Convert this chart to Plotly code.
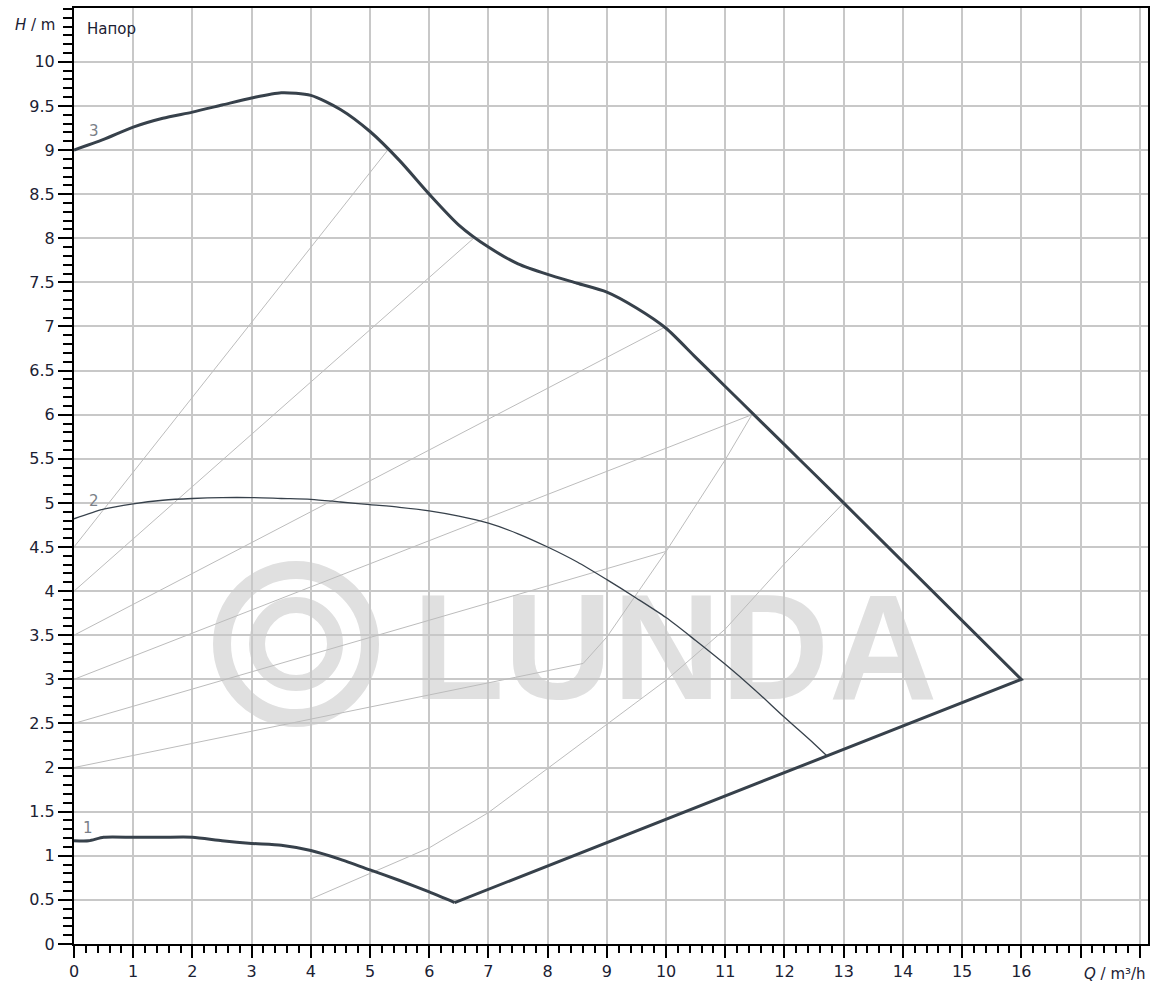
import plotly.graph_objects as go

# ---------------- data ----------------
q_curve3 = [0, 0.5, 1, 1.5, 2, 2.5, 3, 3.5, 4, 4.5, 5, 5.5, 6, 6.5, 7, 7.5, 8, 8.5,
            9, 9.5, 10, 10.5, 11, 11.5, 12, 12.5, 13]
h_curve3 = [9.0, 9.12, 9.26, 9.36, 9.43, 9.51, 9.59, 9.65, 9.62, 9.46, 9.21, 8.88, 8.5,
            8.15, 7.9, 7.71, 7.59, 7.49, 7.39, 7.21, 6.98, 6.65, 6.32, 5.99, 5.66, 5.33, 5.0]

q_curve2 = [0, 0.5, 1, 1.5, 2, 2.5, 3, 3.5, 4, 4.5, 5, 5.5, 6, 6.5, 7, 7.5, 8, 8.5,
            9, 9.5, 10, 10.5, 11, 11.5, 12, 12.5, 12.72]
h_curve2 = [4.82, 4.93, 4.99, 5.03, 5.05, 5.06, 5.06, 5.05, 5.04, 5.01, 4.98, 4.95, 4.91,
            4.85, 4.77, 4.65, 4.5, 4.33, 4.13, 3.92, 3.7, 3.44, 3.17, 2.88, 2.57, 2.27, 2.13]

q_curve1 = [0, 0.25, 0.5, 1, 1.5, 2, 2.5, 3, 3.5, 4, 4.5, 5, 5.5, 6, 6.43]
h_curve1 = [1.17, 1.17, 1.21, 1.21, 1.21, 1.21, 1.17, 1.14, 1.12, 1.06, 0.96, 0.84, 0.72, 0.59, 0.47]

q_limit = [13, 16, 6.43]
h_limit = [5.0, 3.0, 0.47]

# thin grey iso-lines
q_iso = [
    [0, 5.3],
    [0, 6.75],
    [0, 10.0],
    [0, 11.45],
    [0, 10.0],
    [0, 8.6, 9.0, 10.0, 11.0, 11.45],
    [4, 5, 6, 7, 8, 9, 10, 11, 12, 13],
]
h_iso = [
    [4.5, 9.0],
    [4.0, 8.0],
    [3.5, 7.0],
    [3.0, 6.0],
    [2.5, 4.45],
    [2.0, 3.18, 3.48, 4.45, 5.49, 6.0],
    [0.51, 0.8, 1.09, 1.49, 1.99, 2.48, 2.99, 3.57, 4.31, 5.0],
]

curve_labels = ["1", "2", "3"]
label_q = [0.24, 0.34, 0.34]
label_h = [1.32, 5.02, 9.22]

x_ticks = list(range(0, 19))
x_ticktext = [str(v) for v in range(0, 17)] + ["", ""]
y_ticks = [i * 0.5 for i in range(0, 21)]
y_ticktext = [f"{v:g}" for v in y_ticks]

# ---------------- styling ----------------
CURVE = "#37414b"
ISO = "#bcbcbc"
GRID = "#c8c8c8"
TXT = "#1b2133"
FONT = "DejaVu Sans"

fig = go.Figure()

for qs, hs in zip(q_iso, h_iso):
    fig.add_trace(go.Scatter(x=qs, y=hs, mode="lines",
                             line=dict(color=ISO, width=1), hoverinfo="skip"))

fig.add_trace(go.Scatter(x=q_curve2, y=h_curve2, mode="lines",
                         line=dict(color=CURVE, width=1.3, shape="spline", smoothing=0.8)))
fig.add_trace(go.Scatter(x=q_curve1, y=h_curve1, mode="lines",
                         line=dict(color=CURVE, width=3, shape="spline", smoothing=0.6)))
fig.add_trace(go.Scatter(x=q_curve3, y=h_curve3, mode="lines",
                         line=dict(color=CURVE, width=3, shape="spline", smoothing=0.7)))
fig.add_trace(go.Scatter(x=q_limit, y=h_limit, mode="lines",
                         line=dict(color=CURVE, width=3)))

for t, qx, hy in zip(curve_labels, label_q, label_h):
    fig.add_annotation(x=qx, y=hy, text=t, showarrow=False,
                       font=dict(family=FONT, size=15, color="#7a7f88"))

# watermark (below grid)
WM = "#e0e0e0"
fig.add_shape(type="circle", xref="x", yref="y", xsizemode="pixel", ysizemode="pixel",
              xanchor=3.75, yanchor=3.4, x0=-74, x1=74, y0=-74, y1=74,
              line=dict(color=WM, width=18), layer="below")
fig.add_shape(type="circle", xref="x", yref="y", xsizemode="pixel", ysizemode="pixel",
              xanchor=3.75, yanchor=3.4, x0=-39, x1=39, y0=-39, y1=39,
              line=dict(color=WM, width=16), layer="below")
fig.add_shape(type="rect", xref="x", yref="y", x0=5.9, x1=14.4, y0=2.9, y1=4.15,
              line=dict(width=0), fillcolor="rgba(0,0,0,0)", layer="below",
              label=dict(text="<b>LUNDA</b>", textposition="middle center",
                         font=dict(family="Liberation Sans", size=150, color=WM)))

fig.add_annotation(xref="paper", yref="y", x=0, y=10.42, xanchor="right", yanchor="middle",
                   xshift=-17, text="<i>H</i> / m", showarrow=False,
                   font=dict(family=FONT, size=15, color=TXT))
fig.add_annotation(xref="x", yref="y", x=0.18, y=10.37, xanchor="left", yanchor="middle",
                   text="Напор", showarrow=False,
                   font=dict(family=FONT, size=15, color=TXT))
fig.add_annotation(xref="paper", yref="paper", x=1, y=0, xanchor="right", yanchor="middle",
                   yshift=-30, text="<i>Q</i> / m³/h", showarrow=False,
                   font=dict(family=FONT, size=15, color=TXT))

axis_common = dict(showline=True, linewidth=2, linecolor="black", mirror=True,
                   showgrid=True, gridcolor=GRID, gridwidth=1.5, zeroline=False,
                   ticks="outside", tickcolor="black", tickwidth=2,
                   tickfont=dict(family=FONT, size=16, color=TXT))

fig.update_xaxes(range=[0, 18.14], tickmode="array", tickvals=x_ticks, ticktext=x_ticktext,
                 ticklen=12,
                 minor=dict(tick0=0, dtick=0.2, ticklen=7, tickwidth=1.5,
                            tickcolor="black", ticks="outside", showgrid=False),
                 **axis_common)
fig.update_yaxes(range=[0, 10.61], tickmode="array", tickvals=y_ticks, ticktext=y_ticktext,
                 ticklen=14,
                 minor=dict(tick0=0, dtick=0.1, ticklen=9, tickwidth=1.5,
                            tickcolor="black", ticks="outside", showgrid=False),
                 **axis_common)

fig.update_layout(width=1157, height=988, showlegend=False,
                  margin=dict(l=74, r=9, t=6, b=44),
                  plot_bgcolor="white", paper_bgcolor="white")

fig.write_html("out.html", config={"displayModeBar": False},
               post_script="document.body.style.margin='0px';document.body.style.overflow='hidden';")
